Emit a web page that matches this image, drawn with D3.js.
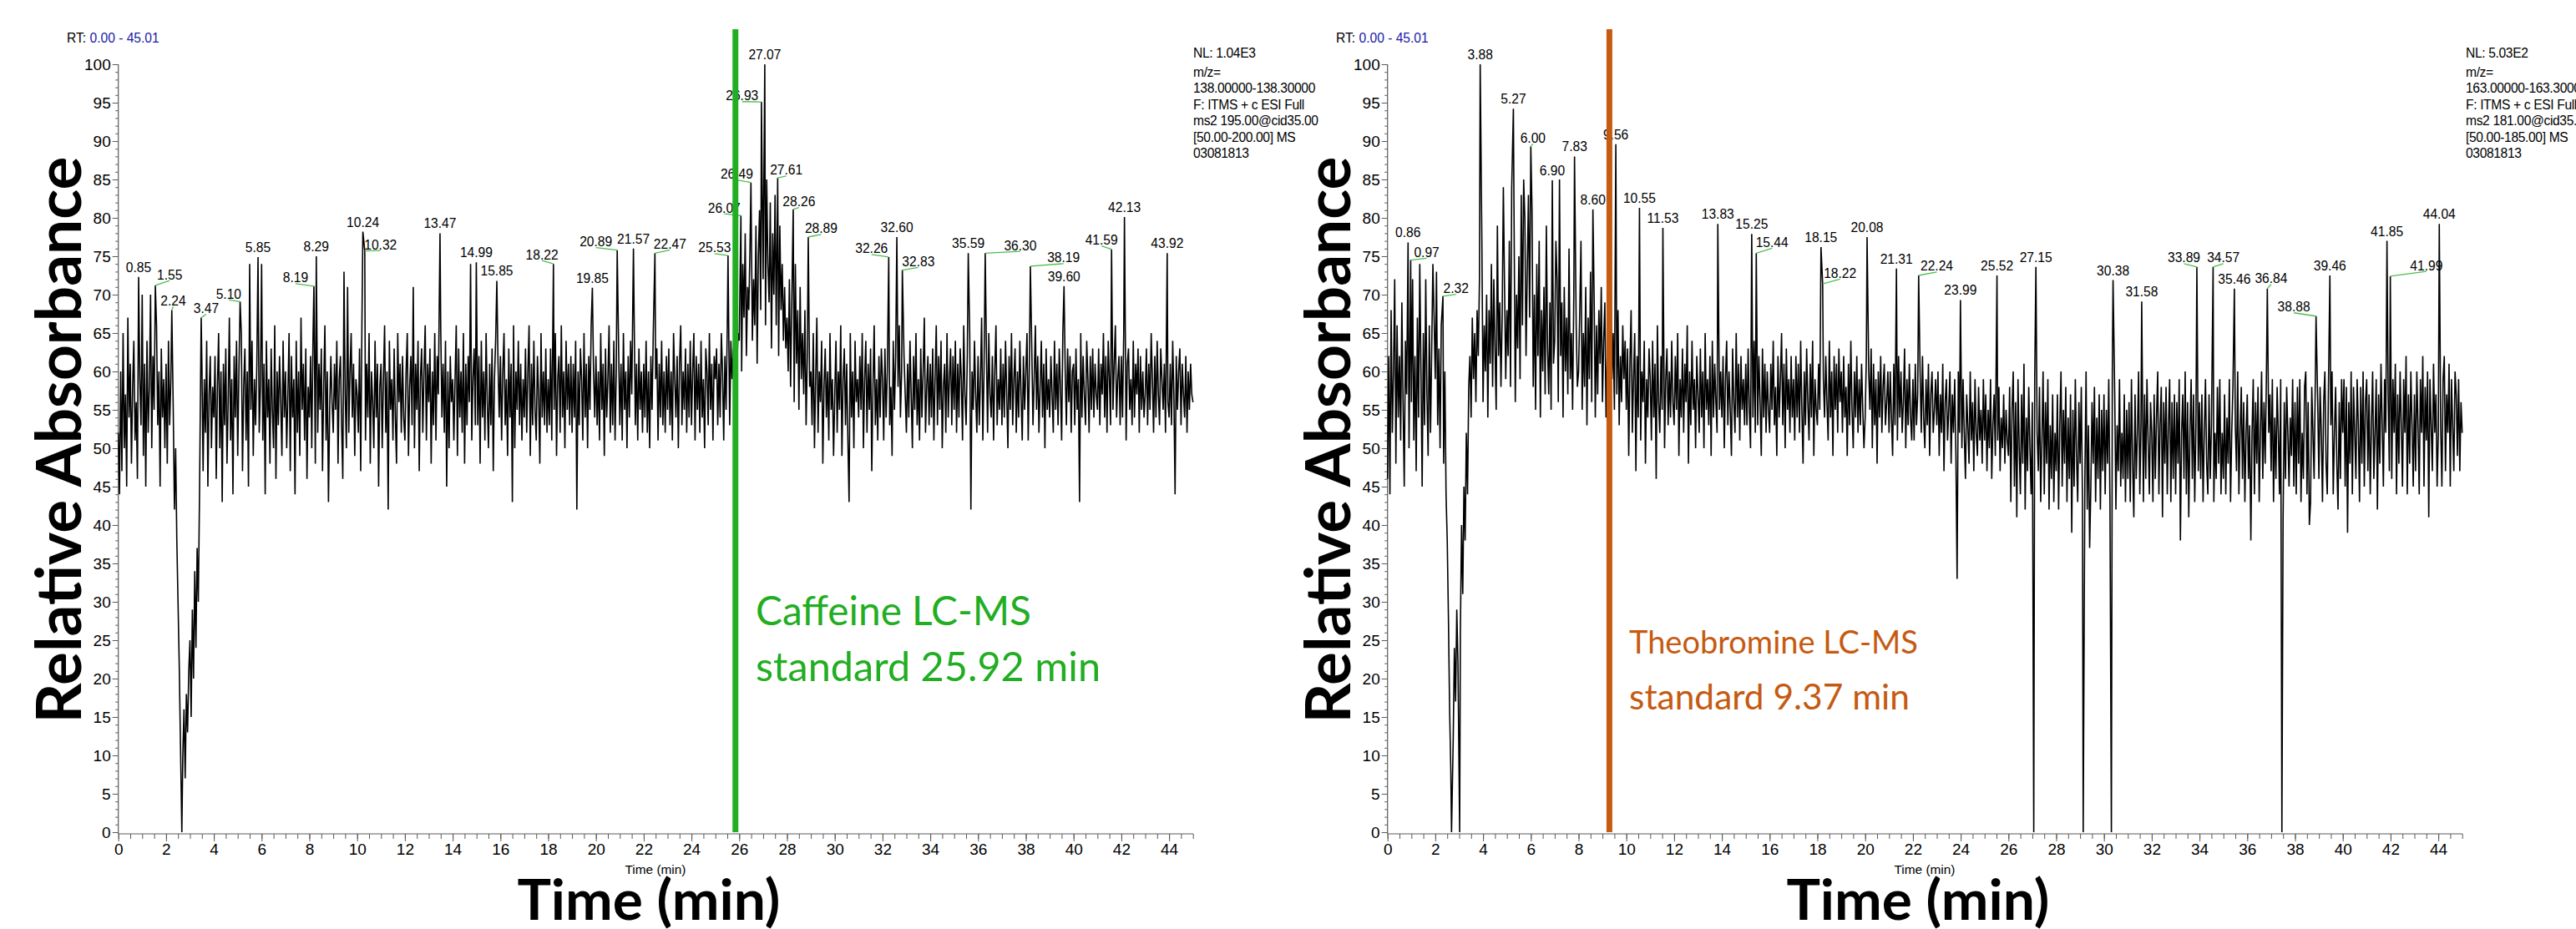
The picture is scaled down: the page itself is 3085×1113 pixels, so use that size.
<!DOCTYPE html>
<html>
<head>
<meta charset="utf-8">
<title>Caffeine and theobromine LC-MS chromatograms</title>
<script src="https://cdn.jsdelivr.net/npm/d3@7/dist/d3.min.js"></script>
<style>
  html, body { margin: 0; padding: 0; background: #fff; }
  svg { display: block; }
</style>
</head>
<body>
<svg id="chart" width="3085" height="1113"></svg>
<script>
// ---------------------------------------------------------------
// Data
// ---------------------------------------------------------------
const SCAN_STEP = 0.05;            // min between plotted scans
const RT_RANGE = [0, 45.01];
const ABS_RANGE = [0, 100];
const timeTicks = d3.range(0, 45, 2);
const timeMinorTicks = d3.range(0, 45.25, 0.5);
const absTicks = d3.range(0, 101, 5);
const absMinorTicks = d3.range(0, 101, 1);

// caffeine trace, one value per scan (relative abundance, %)
const caffeineScan = [
  52,44,60,47,65,50,57,45,67,54,61,48,58,64,51,56,46,72,59,53,
  70,49,61,45,64,52,58,70,50,62,55,47,66,53,60,45,63,54,59,50,
  61,48,64,53,59,45,55,42,50,38,30,22,12,4,10,16,7,18,13,21,
  25,15,29,20,34,24,37,30,44,55,61,47,59,52,64,45,57,62,50,58,
  54,62,46,58,65,50,60,43,61,53,63,48,56,67,51,59,44,62,54,64,
  49,60,69,65,47,58,63,51,60,45,74,55,64,49,59,53,61,75,52,58,
  74,51,61,44,64,54,59,48,63,55,50,66,46,60,53,62,56,49,64,54,
  60,50,57,65,47,62,54,59,44,64,52,60,49,67,55,61,51,63,46,58,
  54,62,50,64,71,48,75,52,61,55,63,47,58,66,51,60,43,55,62,56,
  52,61,55,64,48,59,62,53,46,73,57,50,71,52,60,65,54,61,49,59,
  57,52,63,47,66,78,76,51,61,54,65,48,60,56,50,64,54,61,45,58,
  61,50,59,66,52,60,42,64,55,59,51,63,54,48,65,56,61,52,62,54,
  51,60,65,49,58,62,53,71,50,61,55,64,47,59,63,52,60,66,51,61,
  56,63,48,60,53,65,51,62,57,78,66,54,61,52,64,45,60,50,62,56,
  59,51,59,66,49,63,54,60,52,65,48,61,53,62,56,74,51,59,63,53,
  74,53,62,48,64,54,60,51,65,56,50,61,53,63,47,59,64,72,61,54,
  62,51,60,65,53,59,49,63,54,61,43,66,50,60,55,64,53,61,51,59,
  54,63,52,60,66,49,61,53,64,55,51,62,57,48,65,54,60,53,63,52,
  59,53,63,51,74,55,65,49,59,62,52,66,54,60,50,64,55,61,53,62,
  52,61,54,64,42,60,53,63,59,51,65,54,61,50,62,55,66,71,60,54,
  62,53,60,51,65,55,61,49,63,54,59,66,52,61,53,64,51,60,76,63,
  53,61,51,65,55,60,50,62,54,64,57,76,67,53,61,51,63,55,60,52,
  61,54,64,52,60,50,62,55,65,75,59,63,51,61,54,64,53,60,52,62,
  55,63,53,60,51,65,59,54,62,50,61,66,53,60,55,63,52,61,54,64,
  53,60,65,51,62,55,61,52,64,54,59,50,63,60,53,65,55,61,51,62,
  59,63,53,61,54,65,60,51,62,55,66,75,53,64,59,63,54,62,60,65,
  64,80,60,74,67,78,62,71,68,76,85,64,72,66,79,61,75,81,68,95,
  72,100,66,85,74,69,82,63,78,70,83,66,85,62,79,68,74,64,71,63,
  67,60,72,58,69,81,56,74,61,68,55,71,59,65,57,68,53,62,78,58,
  60,53,65,50,59,67,52,60,56,64,48,58,63,54,60,51,65,55,59,49,
  57,64,52,60,55,66,49,59,63,53,61,51,43,65,54,60,50,64,56,59,
  54,62,55,65,50,59,64,52,61,55,63,47,58,66,53,59,51,62,54,63,
  59,51,63,54,60,75,53,58,49,64,55,62,78,58,66,54,60,73,62,57,
  52,61,54,64,57,50,62,55,65,53,59,51,63,54,60,67,52,58,62,53,
  61,54,63,51,59,66,53,62,55,64,50,58,61,52,65,54,59,63,53,62,
  55,64,52,61,54,63,59,51,66,57,53,62,75,65,42,60,55,64,57,52,
  62,53,59,67,51,60,75,63,52,65,57,54,62,51,60,66,53,59,55,63,
  53,61,54,64,57,50,62,55,65,53,59,63,52,60,54,64,57,51,62,55,
  60,65,51,61,74,63,53,59,66,55,62,52,58,64,54,61,50,63,55,59,
  54,62,57,52,64,55,61,53,63,58,51,65,71,60,53,63,56,62,52,60,
  61,53,63,55,59,43,65,54,62,57,53,64,59,52,62,55,63,54,61,57,
  55,63,53,61,57,65,54,62,52,64,59,53,76,55,61,66,54,59,62,53,
  62,54,65,80,51,61,63,55,59,53,64,54,61,57,63,52,62,55,60,54,
  57,63,53,61,55,65,59,52,62,54,64,57,53,63,59,55,61,52,75,56,
  54,61,53,64,57,44,62,55,60,63,53,61,57,54,62,52,60,55,61,57,
  56
];

// theobromine trace, one value per scan (relative abundance, %)
const theobromineScan = [
  46,62,44,68,52,60,72,48,66,54,62,51,69,56,45,64,57,77,50,74,
  56,72,51,62,47,67,54,74,60,45,65,53,72,57,49,66,52,63,74,67,
  59,73,53,63,50,66,70,48,60,44,38,28,16,8,21,12,24,17,29,22,
  33,26,40,31,45,38,52,44,58,62,54,67,59,65,56,68,62,72,78,77,
  56,66,60,70,54,68,61,74,58,72,63,55,79,62,69,58,67,84,71,59,
  68,62,77,58,84,94,79,56,70,63,75,59,83,66,85,80,62,73,83,67,
  89,81,58,70,55,74,62,77,54,68,60,71,57,79,63,57,69,55,85,61,
  64,77,72,56,85,62,69,54,71,60,67,57,76,59,65,55,70,88,66,58,
  60,68,77,55,65,58,71,53,67,59,73,56,81,70,54,66,57,68,61,71,
  56,64,69,54,62,67,52,71,59,65,55,90,57,68,53,62,56,66,59,64,
  55,63,49,61,68,52,59,65,47,62,54,81,51,60,56,64,48,59,54,63,
  59,51,64,54,61,46,66,56,52,62,55,79,50,59,63,53,60,54,64,56,
  53,62,55,65,49,59,54,63,52,61,56,66,48,60,53,64,55,59,50,62,
  57,52,63,54,60,50,65,55,59,53,62,49,64,54,61,56,52,79,55,60,
  54,62,50,59,64,53,60,55,49,63,56,52,65,54,61,51,62,55,59,53,
  61,53,63,55,50,78,54,64,52,75,53,62,56,49,63,54,61,52,60,55,
  52,61,55,64,53,58,49,62,54,59,65,53,61,50,63,55,59,52,62,54,
  59,51,62,54,61,52,64,55,48,60,53,63,56,51,61,54,64,49,59,55,
  53,61,55,76,71,59,54,62,56,51,64,54,60,49,62,55,61,52,63,56,
  60,52,62,54,58,49,61,53,64,55,50,60,54,62,52,59,53,61,55,50,
  54,62,78,60,55,63,50,61,53,59,48,60,54,62,52,58,61,53,56,60,
  52,60,54,49,61,53,73,51,62,54,60,52,56,63,50,59,53,61,54,51,
  59,51,61,53,57,73,60,52,62,54,50,59,53,61,49,57,60,52,55,59,
  53,60,49,57,52,61,47,56,59,51,55,60,48,57,52,59,49,33,60,52,
  69,50,59,52,46,57,53,48,60,51,56,47,59,52,49,58,51,55,48,59,
  51,57,47,55,50,59,46,53,57,49,73,51,58,47,54,50,57,48,55,51,
  49,58,43,55,60,45,56,41,59,50,44,57,48,61,42,54,47,58,50,44,
  56,46,59,74,52,47,58,43,51,60,44,56,48,59,42,53,46,57,43,52,
  47,57,42,53,60,45,55,48,58,43,54,46,57,39,55,45,59,49,43,56,
  48,58,43,54,46,60,42,53,37,45,56,48,58,43,54,46,57,42,55,47,
  57,44,55,48,59,43,54,60,72,57,42,53,47,59,45,52,46,57,43,55,
  46,56,43,59,48,41,57,46,52,60,44,53,69,43,57,46,59,51,44,56,
  52,43,57,46,54,60,44,53,58,41,56,48,58,44,53,59,43,56,46,57,
  44,56,48,59,38,52,57,46,60,44,56,41,52,59,46,57,43,53,73,47,
  56,46,57,43,52,59,48,44,57,46,53,73,43,52,46,58,48,59,44,52,
  46,57,44,54,48,59,43,52,58,71,53,47,60,44,52,58,46,56,43,52,
  57,46,53,38,52,59,44,56,48,58,43,52,60,46,56,48,59,71,52,57,
  47,59,43,54,46,58,52,44,59,48,41,56,46,58,52,45,54,49,59,45,
  56,44,58,48,59,43,52,46,58,60,44,56,40,43,58,52,46,59,67,56,
  46,58,52,43,56,60,48,44,58,73,53,60,44,52,58,48,42,56,46,59,
  52,59,45,58,39,56,48,60,44,58,52,46,59,53,43,58,48,60,45,56,
  59,47,57,44,53,60,46,52,59,42,57,48,61,53,45,59,52,77,57,47,
  72,46,59,52,61,44,57,48,60,53,45,59,52,62,44,57,48,60,53,45,
  57,47,60,53,44,59,52,62,45,58,51,60,41,59,53,47,61,52,57,45,
  52,80,53,45,59,62,47,57,52,61,45,59,53,47,60,57,49,59,47,56,
  52
];

// labelled apexes [retention time, relative abundance]
const caffeinePeaks = [
  [0.85, 72.3], [1.55, 71.2], [2.24, 68.0], [3.47, 67.0], [5.10, 69.1],
  [5.85, 74.9], [8.19, 71.1], [8.29, 75.0], [10.24, 78.2], [10.32, 75.7],
  [13.47, 78.0], [14.99, 74.2], [15.85, 71.8], [18.22, 74.0], [19.85, 70.9],
  [20.89, 75.8], [21.57, 76.0], [22.47, 75.4], [25.53, 75.1], [26.07, 80.3],
  [26.49, 84.6], [26.93, 95.1], [27.07, 100], [27.61, 85.2], [28.26, 81.1],
  [28.89, 77.5], [32.26, 74.9], [32.60, 77.5], [32.83, 73.2], [35.59, 75.4],
  [36.30, 75.4], [38.19, 73.7], [39.60, 71.1], [41.59, 75.9], [42.13, 80.1],
  [43.92, 75.4]
];
const theobrominePeaks = [
  [0.86, 76.8], [0.97, 74.5], [2.32, 69.8], [3.88, 100], [5.27, 94.2],
  [6.00, 89.3], [6.90, 84.9], [7.83, 88.0], [8.60, 81.1], [9.56, 89.6],
  [10.55, 81.3], [11.53, 78.7], [13.83, 79.2], [15.25, 77.9], [15.44, 75.4],
  [18.15, 76.2], [18.22, 71.4], [20.08, 77.5], [21.31, 73.4], [22.24, 72.5],
  [23.99, 69.3], [25.52, 72.5], [27.15, 73.6], [30.38, 71.9], [31.58, 69.1],
  [33.89, 73.6], [34.57, 73.6], [35.46, 70.8], [36.84, 70.8], [38.88, 67.2],
  [39.46, 72.5], [41.85, 77.0], [41.99, 72.4], [44.04, 79.2]
];

// labels moved off their apex: [apex time, label centre time, label baseline %]
const caffeineLabelMoves = [
  [1.55, 2.15, 72.0], [2.24, 2.30, 68.6], [3.47, 3.68, 67.6], [5.10, 4.62, 69.5],
  [8.19, 7.42, 71.6], [10.32, 10.98, 75.9], [18.22, 17.74, 74.6], [20.89, 20.00, 76.3],
  [22.47, 23.10, 76.0], [25.53, 24.97, 75.5], [26.07, 25.37, 80.7], [26.49, 25.90, 85.1],
  [26.93, 26.12, 95.3], [27.61, 27.97, 85.6], [28.26, 28.50, 81.5], [28.89, 29.43, 78.0],
  [32.26, 31.54, 75.4], [32.83, 33.50, 73.7], [36.30, 37.77, 75.8], [38.19, 39.58, 74.2],
  [41.59, 41.17, 76.5]
];
const theobromineLabelMoves = [
  [0.97, 1.64, 74.9], [2.32, 2.87, 70.2], [6.00, 6.09, 89.8], [15.44, 16.10, 76.2],
  [18.22, 18.95, 72.2], [22.24, 23.00, 73.1], [33.89, 33.35, 74.2], [34.57, 35.00, 74.2],
  [36.84, 37.00, 71.5], [38.88, 37.95, 67.8], [41.99, 43.50, 73.2]
];

// single scans that drop to the baseline
const caffeineDrops = [[2.66, 0]];
const theobromineDrops = [[2.68, 0], [3.02, 0], [27.06, 0], [29.13, 0], [30.31, 0], [37.45, 0]];

// scan header text
const caffeineInfo = ["NL: 1.04E3", "m/z=", "138.00000-138.30000", "F: ITMS + c ESI Full",
  "ms2 195.00@cid35.00", "[50.00-200.00]  MS", "03081813"];
const theobromineInfo = ["NL: 5.03E2", "m/z=", "163.00000-163.30000", "F: ITMS + c ESI Full",
  "ms2 181.00@cid35.00", "[50.00-185.00]  MS", "03081813"];

// standard retention time markers
const caffeineMarkRT = 25.84;
const theobromineMarkRT = 9.29;
const caffeineNote = ["Caffeine LC-MS", "standard 25.92 min"];
const theobromineNote = ["Theobromine LC-MS", "standard 9.37 min"];

// ---------------------------------------------------------------
// Drawing
// ---------------------------------------------------------------
const svg = d3.select('#chart');
const ARIAL = '"Liberation Sans", Arial, sans-serif';
const BOLD = 'Lato, "Open Sans", sans-serif';
const fmt = d3.format('.2f');

// scale a text's font size so that it spans the given width
function fitWidth(sel, width) {
  sel.style('font-size', '100px');
  const w = sel.node().getComputedTextLength();
  sel.style('font-size', (100 * width / w).toFixed(2) + 'px');
}

// shift a text horizontally so that one of its characters centres on targetX
function alignChar(sel, index, targetX) {
  const node = sel.node();
  const before = node.getSubStringLength(0, index);
  const own = node.getSubStringLength(index, 1);
  sel.attr('x', targetX - before - own / 2);
}

function drawPanel(cfg) {
  const g = svg.append('g').attr('transform', `translate(${cfg.shift},0)`);
  const x = d3.scaleLinear().domain(RT_RANGE).range([141.7, 1429]);
  const y = d3.scaleLinear().domain(ABS_RANGE).range([997, 77]);
  const axisY = 999;

  // --- axes
  const styleAxis = sel => {
    sel.select('.domain').remove();
    sel.selectAll('line').attr('stroke', '#5a5a5a');
    sel.selectAll('text').attr('font-family', ARIAL).attr('font-size', 19).attr('fill', '#000');
  };
  g.append('g').attr('transform', 'translate(141.7,0)')
    .call(d3.axisLeft(y).tickValues(absMinorTicks).tickSize(3.5).tickFormat(''))
    .call(styleAxis);
  g.append('g').attr('transform', 'translate(141.7,0)')
    .call(d3.axisLeft(y).tickValues(absTicks).tickSize(7).tickPadding(2))
    .call(styleAxis);
  g.append('g').attr('transform', `translate(0,${axisY})`)
    .call(d3.axisBottom(x).tickValues(timeMinorTicks).tickSize(6).tickFormat(''))
    .call(styleAxis);
  g.append('g').attr('transform', `translate(0,${axisY})`)
    .call(d3.axisBottom(x).tickValues(timeTicks).tickSize(9).tickPadding(3))
    .call(styleAxis);
  g.append('line').attr('x1', 141.7).attr('x2', 141.7).attr('y1', y(100)).attr('y2', axisY)
    .attr('stroke', '#5a5a5a').attr('stroke-width', 1.2);
  g.append('line').attr('x1', 141.7).attr('x2', x(RT_RANGE[1])).attr('y1', axisY).attr('y2', axisY)
    .attr('stroke', '#5a5a5a').attr('stroke-width', 1.2);

  // --- trace: scans + labelled apexes + drop-outs
  const fixed = cfg.peaks.concat(cfg.drops);
  const scans = cfg.scan.map((v, i) => [i * SCAN_STEP, v])
    .filter(s => !fixed.some(f => Math.abs(f[0] - s[0]) < 0.026));
  const pts = scans.concat(fixed).sort((a, b) => a[0] - b[0]);
  g.append('path')
    .attr('d', d3.line().x(d => x(d[0])).y(d => y(d[1]))(pts))
    .attr('fill', 'none')
    .attr('stroke', '#000')
    .attr('stroke-width', 1.6);

  // --- apex labels
  const moves = new Map(cfg.labelMoves.map(d => [d[0], d]));
  cfg.peaks.forEach(([t, v]) => {
    const m = moves.get(t);
    const lx = m ? x(m[1]) : x(t);
    const ly = m ? y(m[2]) : y(v) - 6;
    if (m) {
      g.append('line')
        .attr('x1', x(t)).attr('y1', y(v))
        .attr('x2', lx).attr('y2', ly + 1.5)
        .attr('stroke', '#4dbd4d').attr('stroke-width', 1.3);
    }
    g.append('text')
      .attr('x', lx).attr('y', ly)
      .attr('text-anchor', 'middle')
      .attr('font-family', ARIAL).attr('font-size', 15.6)
      .text(fmt(t));
  });

  // --- header text
  g.append('text').attr('x', 80).attr('y', 51)
    .attr('font-family', ARIAL).attr('font-size', 15.6)
    .call(t => {
      t.append('tspan').attr('fill', '#000').text('RT: ');
      t.append('tspan').attr('fill', '#1a1aa6').text('0.00 - 45.01');
    });
  const infoBase = [69, 91.7, 110.9, 130.5, 150.1, 169.7, 189.3];
  cfg.info.forEach((s, i) => {
    g.append('text').attr('x', cfg.infoX).attr('y', infoBase[i])
      .attr('font-family', ARIAL).attr('font-size', 15.6).attr('letter-spacing', -0.35)
      .text(s);
  });

  // --- small axis title
  g.append('text').attr('x', 785).attr('y', 1047)
    .attr('text-anchor', 'middle')
    .attr('font-family', ARIAL).attr('font-size', 15.4)
    .text('Time (min)');

  // --- big axis titles
  const ty = g.append('text')
    .attr('transform', 'translate(97,527) rotate(-90)')
    .attr('text-anchor', 'middle')
    .attr('font-family', BOLD).attr('font-weight', 700)
    .text('Relative Absorbance');
  fitWidth(ty, 679);
  const tx = g.append('text')
    .attr('x', 777).attr('y', 1102)
    .attr('text-anchor', 'middle')
    .attr('font-family', BOLD).attr('font-weight', 700)
    .text('Time (min)');
  fitWidth(tx, 315);

  // --- standard marker and note
  g.append('line')
    .attr('x1', x(cfg.markRT)).attr('x2', x(cfg.markRT))
    .attr('y1', 35).attr('y2', 997)
    .attr('stroke', cfg.color).attr('stroke-width', 7);
  cfg.note.forEach((s, i) => {
    const t = g.append('text')
      .attr('x', cfg.noteX).attr('y', cfg.noteY + i * 67)
      .attr('font-family', BOLD).attr('fill', cfg.color)
      .text(s);
    fitWidth(t, cfg.noteW[i]);
  });
}

drawPanel({
  shift: 0, scan: caffeineScan, peaks: caffeinePeaks, labelMoves: caffeineLabelMoves,
  drops: caffeineDrops, info: caffeineInfo, infoX: 1429,
  markRT: caffeineMarkRT, note: caffeineNote, color: '#22ae22',
  noteX: 905, noteY: 749, noteW: [330, 413]
});
drawPanel({
  shift: 1520, scan: theobromineScan, peaks: theobrominePeaks, labelMoves: theobromineLabelMoves,
  drops: theobromineDrops, info: theobromineInfo, infoX: 1433,
  markRT: theobromineMarkRT, note: theobromineNote, color: '#c55a11',
  noteX: 431, noteY: 783, noteW: [346, 336]
});

// --- page title, cut by the top edge of the image
const titleParts = [
  ['Chromatogram of Caffeine', 8, 592],
  ['Theobromine (right)', 15, 1905],
  ['(MS)', 1, 2675]
];
titleParts.forEach(([s, idx, cx]) => {
  const t = svg.append('text').attr('y', -19)
    .attr('font-family', BOLD).attr('font-weight', 700).attr('font-size', 100)
    .text(s);
  alignChar(t, idx, cx);
});
</script>
</body>
</html>
